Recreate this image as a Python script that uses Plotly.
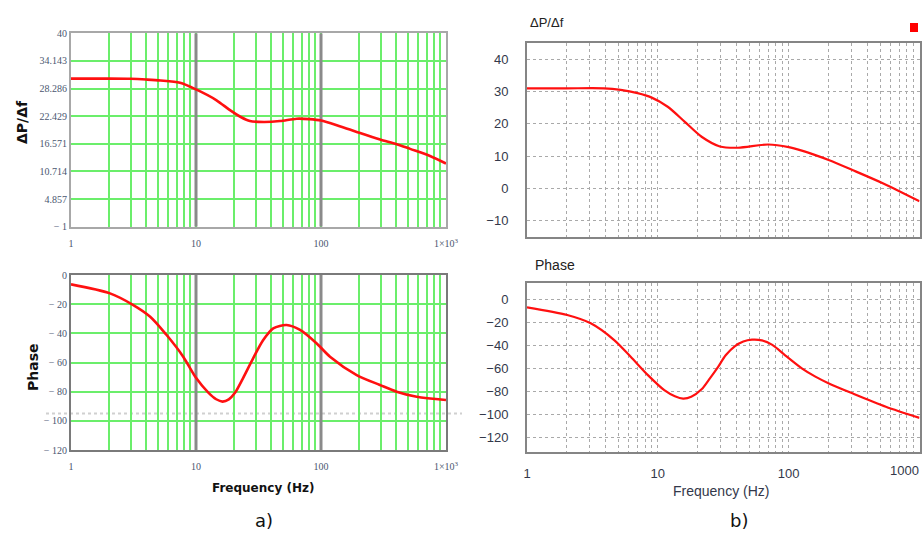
import math
import plotly.graph_objects as go

# ---- (a) magnitude / phase samples ----
fa_mag = [1, 2, 3, 4, 5.2, 7.45, 10, 14.6, 18.7, 23, 27, 35, 47, 64, 81, 100, 141, 193, 297, 403, 517, 745, 1000]
va_mag = [30.4, 30.4, 30.35, 30.2, 30.0, 29.5, 28.1, 25.8, 23.7, 22.2, 21.4, 21.2, 21.4, 21.9, 21.8, 21.5, 20.3, 19.1, 17.5, 16.5, 15.5, 14.0, 12.4]

fa_ph = [1, 2.05, 3.15, 4.3, 5.8, 7.9, 10, 12.5, 14.5, 16.3, 18.3, 20.5, 23.7, 28.7, 34.5, 41.5, 53, 68, 92, 118, 193, 296, 403, 583, 1000]
va_ph = [-6.4, -12.6, -20.6, -28.6, -41, -56, -70.5, -80.5, -85.2, -86.8, -85.3, -80.8, -71, -57, -44.6, -36.6, -34.3, -37.7, -46.8, -56, -68.6, -75.4, -80, -83.5, -85.7]

# ---- (b) magnitude / phase samples ----
fb_mag = [1, 2, 3.88, 5.2, 7.0, 8.9, 11.9, 16, 21.6, 29.8, 41, 70, 100, 126, 160, 202, 307, 524, 1000]
vb_mag = [31.0, 31.0, 31.0, 30.5, 29.5, 28.2, 25.3, 20.7, 16.0, 13.0, 12.6, 13.6, 12.8, 11.7, 10.3, 8.8, 5.7, 1.6, -4.0]

fb_ph = [1, 2.03, 3.07, 4.64, 6.2, 8.4, 11.2, 13.5, 15.6, 18.0, 21.6, 25, 28.9, 33, 38.9, 45, 52.4, 62.3, 75, 94, 126, 160, 203, 307, 553, 1000]
vb_ph = [-6.9, -13.6, -20.8, -35.3, -49.8, -65.7, -78.7, -84.0, -86.0, -84.5, -78.0, -68.5, -58.5, -48.5, -40.5, -36.6, -35.0, -35.6, -39.5, -48.5, -59.8, -67.0, -72.9, -81.5, -93.1, -102.8]

# ---- tick sets ----
a_mag_ticks = [40, 34.143, 28.286, 22.429, 16.571, 10.714, 4.857, -1]
a_mag_text = ["40", "34.143", "28.286", "22.429", "16.571", "10.714", "4.857", "− 1"]
a_ph_ticks = [0, -20, -40, -60, -80, -100, -120]
a_ph_text = ["0", "− 20", "− 40", "− 60", "− 80", "− 100", "− 120"]
b_mag_ticks = [40, 30, 20, 10, 0, -10]
b_ph_ticks = [0, -20, -40, -60, -80, -100, -120]
decades = [1, 10, 100, 1000]
a_dec_text = ["1", "10", "100", "1×10<sup>3</sup>"]
b_dec_text = ["1", "10", "100", ""]

freq_grid = [m * 10 ** d for d in range(3) for m in range(1, 10)] + [1000]


def freq_labels(labels):
    lab = dict(zip(decades, labels))
    return [lab.get(v, "") for v in freq_grid]


W, H = 922, 534


def px(x):
    return x / W


def py(y):
    return 1 - y / H


GREEN = "#6bee6b"
fig = go.Figure()

# decade reference lines for panel (a)
for ax_y, rng in (("y", (-1, 40)), ("y2", (-120, 0))):
    xs, ys = [], []
    for d in (10, 100):
        xs += [d, d, None]
        ys += [rng[0], rng[1], None]
    fig.add_trace(go.Scatter(x=xs, y=ys, mode="lines", xaxis="x" if ax_y == "y" else "x2", yaxis=ax_y,
                             line=dict(color="#8a8a8a", width=3), hoverinfo="skip", showlegend=False))

fig.add_trace(go.Scatter(x=fa_mag, y=va_mag, mode="lines", xaxis="x", yaxis="y",
                         line=dict(color="#ff1010", width=2.6, shape="spline", smoothing=0.8), showlegend=False))
fig.add_trace(go.Scatter(x=fa_ph, y=va_ph, mode="lines", xaxis="x2", yaxis="y2",
                         line=dict(color="#ff1010", width=2.6, shape="spline", smoothing=0.8), showlegend=False))
fig.add_trace(go.Scatter(x=fb_mag, y=vb_mag, mode="lines", xaxis="x3", yaxis="y3",
                         line=dict(color="#ff1010", width=2.2, shape="spline", smoothing=0.8), showlegend=False))
fig.add_trace(go.Scatter(x=fb_ph, y=vb_ph, mode="lines", xaxis="x4", yaxis="y4",
                         line=dict(color="#ff1010", width=2.2, shape="spline", smoothing=0.8), showlegend=False))

a_tick_font = dict(family="Liberation Serif", size=10, color="#4a5670")
b_tick_font = dict(family="Liberation Sans", size=13, color="#33384a")

a_x = dict(type="log", range=[0, 3], tickvals=freq_grid, showgrid=True, gridcolor=GREEN, gridwidth=2,
           zeroline=False, ticks="outside", ticklen=6, tickcolor="rgba(0,0,0,0)", tickfont=a_tick_font,
           showline=True, mirror=True, linewidth=2, automargin=False)
a_y = dict(showgrid=True, gridcolor=GREEN, gridwidth=2, zeroline=False, ticks="", tickfont=a_tick_font,
           showline=True, mirror=True, linewidth=2, automargin=False)
b_x = dict(type="log", range=[0, 3], tickvals=freq_grid, showgrid=True, gridcolor="#a9a9a9", gridwidth=1,
           griddash="dot", zeroline=False, ticks="outside", ticklen=9, tickcolor="rgba(0,0,0,0)",
           tickfont=b_tick_font, showline=True, mirror=True, linewidth=2, linecolor="#858585",
           automargin=False)
b_y = dict(showgrid=True, gridcolor="#a9a9a9", gridwidth=1, griddash="dot", zeroline=False,
           ticks="outside", ticklen=14, tickcolor="rgba(0,0,0,0)", tickfont=b_tick_font,
           showline=True, mirror=True, linewidth=2, linecolor="#858585", automargin=False)

fig.update_layout(
    width=W, height=H, margin=dict(l=0, r=0, t=0, b=0),
    paper_bgcolor="white", plot_bgcolor="white", showlegend=False,
    xaxis=dict(a_x, domain=[px(71), px(446)], anchor="y", ticktext=freq_labels(a_dec_text), linecolor="#a8a8a8"),
    yaxis=dict(a_y, domain=[py(226.7), py(33.3)], anchor="x", range=[-1, 40],
               tickvals=a_mag_ticks, ticktext=a_mag_text, linecolor="#a8a8a8"),
    xaxis2=dict(a_x, domain=[px(71), px(446)], anchor="y2", ticktext=freq_labels(a_dec_text), linecolor="#7a7a7a"),
    yaxis2=dict(a_y, domain=[py(450), py(275)], anchor="x2", range=[-120, 0],
                tickvals=a_ph_ticks, ticktext=a_ph_text, linecolor="#7a7a7a"),
    xaxis3=dict(b_x, domain=[px(527), px(919.5)], anchor="y3", showticklabels=False),
    yaxis3=dict(b_y, domain=[py(236.7), py(42.7)], anchor="x3", range=[-14.96, 45.14],
                tickvals=b_mag_ticks),
    xaxis4=dict(b_x, domain=[px(527), px(919.5)], anchor="y4", ticktext=freq_labels(b_dec_text)),
    yaxis4=dict(b_y, domain=[py(451.7), py(283.3)], anchor="x4", range=[-132.1, 13.9],
                tickvals=b_ph_ticks),
)

# faint dotted reference line across panel (a) phase
fig.add_shape(type="line", xref="paper", yref="y2", x0=px(46), x1=px(462), y0=-95, y1=-95,
              line=dict(color="#d0d0d0", width=2, dash="dot"), layer="below")

# legend marker in panel (b)
fig.add_shape(type="rect", xref="paper", yref="paper", x0=px(910), x1=px(918), y0=py(32), y1=py(23),
              fillcolor="#ff0000", line=dict(width=0))

ann = [
    dict(text="<b>ΔP/Δf</b>", x=px(22), y=py(122), textangle=-90,
         font=dict(family="DejaVu Sans", size=14, color="#111")),
    dict(text="<b>Phase</b>", x=px(33), y=py(367), textangle=-90,
         font=dict(family="DejaVu Sans", size=14, color="#111")),
    dict(text="<b>Frequency (Hz)</b>", x=px(263), y=py(488),
         font=dict(family="DejaVu Sans", size=12, color="#111")),
    dict(text="a)", x=px(264), y=py(520), font=dict(family="DejaVu Sans", size=18, color="#111")),
    dict(text="ΔP/Δf", x=px(528), y=py(23), xanchor="left",
         font=dict(family="Liberation Sans", size=13, color="#222")),
    dict(text="Phase", x=px(533), y=py(265), xanchor="left",
         font=dict(family="Liberation Sans", size=14, color="#222")),
    dict(text="Frequency (Hz)", x=px(721), y=py(491),
         font=dict(family="Liberation Sans", size=14, color="#33384a")),
    dict(text="1000", x=px(921), y=py(470), xanchor="right", font=b_tick_font),
    dict(text="b)", x=px(739), y=py(520), font=dict(family="DejaVu Sans", size=18, color="#111")),
]
for a in ann:
    a.setdefault("xanchor", "center")
    fig.add_annotation(xref="paper", yref="paper", yanchor="middle", showarrow=False, **a)

fig.write_html("out.html")
